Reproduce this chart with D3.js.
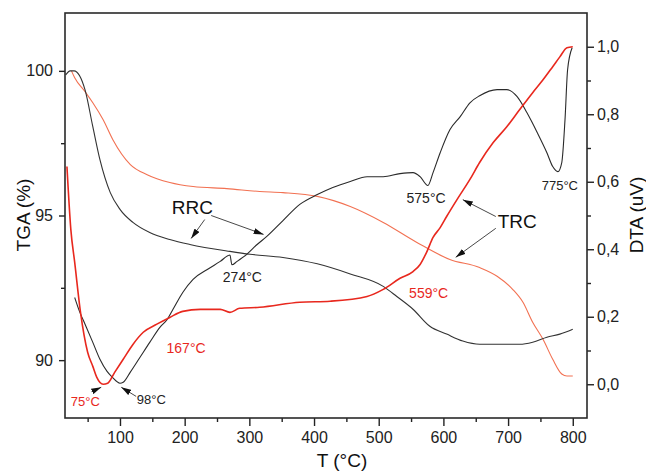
<!DOCTYPE html>
<html><head><meta charset="utf-8">
<script src="https://cdn.jsdelivr.net/npm/d3@7"></script>
<style>
body{margin:0;background:#fff}
svg{display:block}
text{font-family:"Liberation Sans",Arial,Helvetica,sans-serif}
</style></head>
<body><svg id="c" width="646" height="472"></svg>
<script>
// ---------- data ----------
const TEMP_TICKS = [100,200,300,400,500,600,700,800];
const TEMP_MINOR = [50,150,250,350,450,550,650,750];
const TGA_TICKS = [90,95,100];
const TGA_MINOR = [92.5,97.5];
const DTA_TICKS = [0,0.2,0.4,0.6,0.8,1.0];
const DTA_MINOR = [0.1,0.3,0.5,0.7,0.9];

// RRC thermogravimetric curve [T °C, TGA %]
const rrcTGA = [[16,99.86],[23,100.0],[29,100.0],[46,99.34],[58,98.07],[69,96.93],[85,95.79],[100,95.21],[120,94.76],[146,94.41],[177,94.17],[208,94.0],[270,93.76],[301,93.66],[352,93.55],[405,93.33],[456,92.98],[507,92.55],[528,92.2],[553,91.76],[579,91.17],[605,90.9],[630,90.66],[656,90.55],[718,90.55],[738,90.62],[760,90.79],[780,90.9],[800,91.07]];
// TRC thermogravimetric curve [T °C, TGA %]
const trcTGA = [[25,100.0],[30,99.76],[46,99.28],[58,98.9],[74,98.31],[89,97.62],[116,96.76],[142,96.41],[177,96.14],[213,96.0],[265,95.93],[316,95.83],[352,95.79],[405,95.66],[456,95.31],[507,94.76],[559,94.07],[610,93.48],[656,93.2],[683,92.9],[707,92.45],[723,92.0],[738,91.31],[754,90.72],[769,90.03],[783,89.52],[791,89.45],[800,89.45]];
// RRC DTA curve [T °C, uV]
const rrcDTA = [[30,0.257],[38,0.213],[46,0.178],[58,0.124],[69,0.074],[80,0.038],[88,0.021],[100,0.003],[105,0.006],[116,0.036],[131,0.080],[146,0.124],[162,0.169],[173,0.192],[182,0.222],[197,0.272],[213,0.311],[235,0.340],[255,0.364],[270,0.383],[273,0.354],[281,0.364],[296,0.385],[312,0.414],[327,0.438],[352,0.485],[378,0.533],[405,0.562],[429,0.583],[456,0.601],[482,0.615],[507,0.615],[533,0.624],[553,0.627],[564,0.615],[576,0.589],[584,0.627],[595,0.686],[610,0.754],[626,0.793],[641,0.834],[656,0.855],[683,0.873],[698,0.873],[714,0.852],[729,0.805],[745,0.746],[760,0.686],[769,0.645],[777,0.630],[783,0.657],[788,0.784],[792,0.932],[799,0.997]];
// TRC DTA curve [T °C, uV]
const trcDTA = [[18,0.645],[24,0.459],[30,0.361],[39,0.213],[50,0.095],[58,0.053],[64,0.021],[74,0.000],[81,0.003],[92,0.036],[105,0.074],[120,0.118],[136,0.154],[157,0.178],[177,0.198],[197,0.216],[224,0.222],[255,0.222],[270,0.213],[285,0.225],[316,0.228],[378,0.243],[425,0.246],[482,0.260],[507,0.281],[533,0.314],[553,0.334],[564,0.355],[574,0.391],[584,0.435],[595,0.464],[605,0.497],[621,0.547],[641,0.607],[656,0.657],[677,0.716],[698,0.763],[718,0.814],[738,0.864],[754,0.902],[769,0.941],[780,0.970],[791,0.997],[800,1.000]];

// annotations: [text, T, DTA, color, size]
const LABELS = [
  ["75°C",24,-0.065,"#e8281e",13],
  ["98°C",126,-0.059,"#222",13],
  ["167°C",172,0.092,"#e8281e",14],
  ["274°C",259,0.302,"#222",14],
  ["575°C",543,0.538,"#222",14],
  ["559°C",547,0.257,"#e8281e",14],
  ["775°C",752,0.577,"#222",13],
  ["RRC",180,0.503,"#111",19],
  ["TRC",684,0.464,"#111",19]
];
// arrows: [T0, DTA0, T1, DTA1]
const ARROWS = [
  [231,0.488,210,0.432],
  [241,0.500,322,0.444],
  [681,0.497,630,0.547],
  [681,0.462,619,0.376],
  [125,-0.036,102,-0.009],
  [56,-0.022,71,-0.009]
];

// ---------- layout ----------
const svg = d3.select("#c");
const P = {l:65, r:587, t:13, b:418};
const x = d3.scaleLinear().domain([15,822]).range([P.l,P.r]);
const yT = d3.scaleLinear().domain([88,102]).range([P.b,P.t]);
const yD = d3.scaleLinear().domain([-0.1,1.1]).range([P.b,P.t]);

const defs = svg.append("defs");
defs.append("marker").attr("id","ah").attr("viewBox","0 0 10 6")
  .attr("refX",10).attr("refY",3).attr("markerWidth",10).attr("markerHeight",6)
  .attr("orient","auto").attr("markerUnits","userSpaceOnUse")
  .append("path").attr("d","M0,0L10,3L0,6z").attr("fill","#111");

// curves
const lineT = d3.line().x(d=>x(d[0])).y(d=>yT(d[1])).curve(d3.curveMonotoneX);
const lineD = d3.line().x(d=>x(d[0])).y(d=>yD(d[1])).curve(d3.curveMonotoneX);

svg.append("path").datum(trcTGA).attr("d",lineT).attr("fill","none").attr("stroke","#f27152").attr("stroke-width",1.1);
svg.append("path").datum(rrcTGA).attr("d",lineT).attr("fill","none").attr("stroke","#333").attr("stroke-width",1.1);
svg.append("path").datum(rrcDTA).attr("d",lineD).attr("fill","none").attr("stroke","#2a2a2a").attr("stroke-width",1.1);
svg.append("path").datum(trcDTA).attr("d",lineD).attr("fill","none").attr("stroke","#e8281e").attr("stroke-width",1.6);

// axes
function styleAxis(g){
  g.select(".domain").remove();
  g.selectAll("line").attr("stroke","#222").attr("stroke-width",1.4);
  g.selectAll("text").attr("fill","#222").style("font-size","16px").style("font-family",'"Liberation Sans",Arial,sans-serif');
}
svg.append("g").attr("transform",`translate(0,${P.b})`)
  .call(d3.axisBottom(x).tickValues(TEMP_TICKS).tickSize(8).tickPadding(6).tickSizeOuter(0)).call(styleAxis);
svg.append("g").attr("transform",`translate(0,${P.b})`)
  .call(d3.axisBottom(x).tickValues(TEMP_MINOR).tickSize(4).tickFormat("")).call(styleAxis);
svg.append("g").attr("transform",`translate(${P.l},0)`)
  .call(d3.axisLeft(yT).tickValues(TGA_TICKS).tickSize(6).tickPadding(6)).call(styleAxis);
svg.append("g").attr("transform",`translate(${P.l},0)`)
  .call(d3.axisLeft(yT).tickValues(TGA_MINOR).tickSize(4).tickFormat("")).call(styleAxis);
svg.append("g").attr("transform",`translate(${P.r},0)`)
  .call(d3.axisRight(yD).tickValues(DTA_TICKS).tickSize(7).tickPadding(3)
    .tickFormat(d=>d3.format(".1f")(d).replace(".",","))).call(styleAxis);
svg.append("g").attr("transform",`translate(${P.r},0)`)
  .call(d3.axisRight(yD).tickValues(DTA_MINOR).tickSize(4).tickFormat("")).call(styleAxis);

// frame
svg.append("rect").attr("x",P.l).attr("y",P.t).attr("width",P.r-P.l).attr("height",P.b-P.t)
  .attr("fill","none").attr("stroke","#2a2a2a").attr("stroke-width",1.6);

// axis titles
svg.append("text").attr("x",342).attr("y",467).attr("text-anchor","middle")
  .style("font-size","19px").attr("fill","#111").text("T (°C)");
svg.append("text").attr("transform","translate(30,215) rotate(-90)").attr("text-anchor","middle")
  .style("font-size","19px").attr("fill","#111").text("TGA (%)");
svg.append("text").attr("transform","translate(643,215) rotate(-90)").attr("text-anchor","middle")
  .style("font-size","19px").attr("fill","#111").text("DTA (uV)");

// arrows
svg.selectAll("line.arr").data(ARROWS).join("line").attr("class","arr")
  .attr("x1",d=>x(d[0])).attr("y1",d=>yD(d[1])).attr("x2",d=>x(d[2])).attr("y2",d=>yD(d[3]))
  .attr("stroke","#333").attr("stroke-width",0.9).attr("marker-end","url(#ah)");

// labels
svg.selectAll("text.lab").data(LABELS).join("text").attr("class","lab")
  .attr("x",d=>x(d[1])).attr("y",d=>yD(d[2])).attr("fill",d=>d[3])
  .style("font-size",d=>d[4]+"px").text(d=>d[0]);
</script></body></html>
